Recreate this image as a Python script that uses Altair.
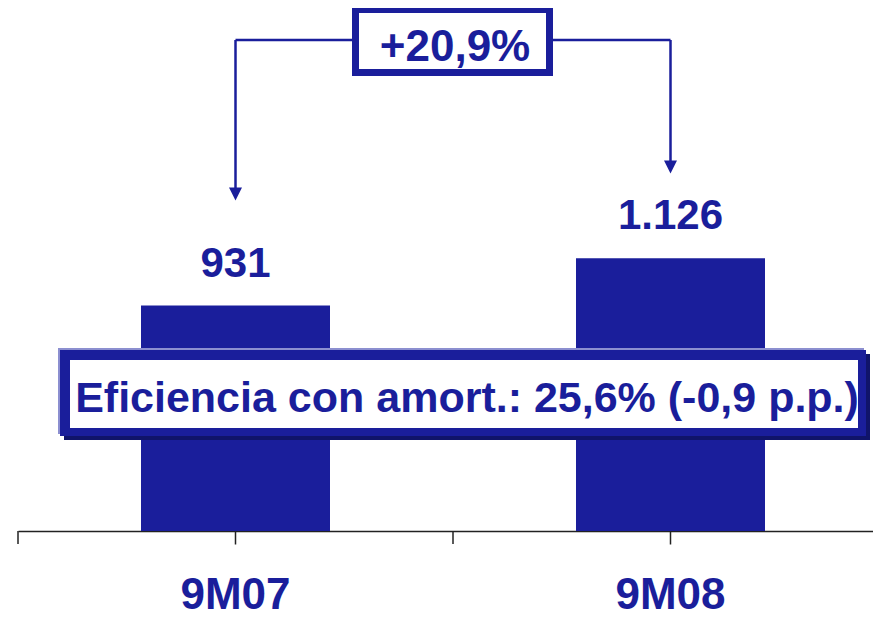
import altair as alt
import pandas as pd

# ---- data ----
categories = ["9M07", "9M08"]
values = [931, 1126]
value_labels = ["931", "1.126"]
growth_label = "+20,9%"
efficiency_label = "Eficiencia con amort.: 25,6% (-0,9 p.p.)"

BLUE = "#1A1E9B"
SHADOW = "#10146A"
EDGE = "#8C8FD0"
AXIS = "#222222"
FONT = "Liberation Sans"

df = pd.DataFrame({"cat": categories, "value": values, "label": value_labels})
one = pd.DataFrame({"k": [0]})

x_enc = alt.X(
    "cat:N",
    sort=categories,
    scale=alt.Scale(range=[10, 880], paddingInner=0, paddingOuter=0),
    axis=alt.Axis(
        title=None, labelAngle=0, labelFont=FONT, labelFontSize=44,
        labelFontWeight="bold", labelColor=BLUE, labelPadding=29,
        labelBaseline="top", tickSize=13, tickColor=AXIS, tickWidth=1.5,
        domainColor=AXIS, domainWidth=1.5, grid=False,
    ),
)
y_enc = alt.Y("value:Q", scale=alt.Scale(domain=[0, 2160]), axis=None)

base = alt.Chart(df)

bars = base.mark_bar(color=BLUE, width=alt.RelativeBandSize(0.4345)).encode(x=x_enc, y=y_enc)

labels = base.mark_text(
    font=FONT, fontSize=42, fontWeight="bold", color=BLUE,
    baseline="alphabetic", dy=-29,
).encode(x=x_enc, y=y_enc, text="label:N")

# ticks at the category boundaries
bound_ticks = base.mark_rule(color=AXIS, strokeWidth=1.5).encode(
    x=alt.X("cat:N", sort=categories, bandPosition=0),
    y=alt.value(523), y2=alt.value(536),
)

# connector: horizontal line between category centres
horiz = base.mark_line(color=BLUE, strokeWidth=2.5).encode(
    x=alt.X("cat:N", sort=categories), y=alt.value(32)
)

vert_left = base.transform_filter(alt.datum.cat == categories[0]).mark_rule(
    color=BLUE, strokeWidth=2.5
).encode(x=alt.X("cat:N", sort=categories), y=alt.value(32), y2=alt.value(185))
vert_right = base.transform_filter(alt.datum.cat == categories[1]).mark_rule(
    color=BLUE, strokeWidth=2.5
).encode(x=alt.X("cat:N", sort=categories), y=alt.value(32), y2=alt.value(158))

tri = "M-1,-1L1,-1L0,1Z"
arrow_left = base.transform_filter(alt.datum.cat == categories[0]).mark_point(
    shape=tri, size=170, filled=True, color=BLUE, opacity=1
).encode(x=alt.X("cat:N", sort=categories), y=alt.value(186))
arrow_right = base.transform_filter(alt.datum.cat == categories[1]).mark_point(
    shape=tri, size=170, filled=True, color=BLUE, opacity=1
).encode(x=alt.X("cat:N", sort=categories), y=alt.value(159))

ann = alt.Chart(one)
growth_box = ann.mark_rect(fill="white", stroke=BLUE, strokeWidth=7).encode(
    x=alt.value(347.5), x2=alt.value(541.5), y=alt.value(1.5), y2=alt.value(64.5)
)
growth_text = ann.mark_text(
    font=FONT, fontSize=44, fontWeight="bold", color=BLUE, baseline="alphabetic", align="center"
).encode(x=alt.value(447), y=alt.value(53), text=alt.value(growth_label))

eff_edge = ann.mark_rect(fill=EDGE).encode(
    x=alt.value(50), x2=alt.value(856), y=alt.value(340), y2=alt.value(426)
)
eff_shadow = ann.mark_rect(fill=SHADOW).encode(
    x=alt.value(56), x2=alt.value(862), y=alt.value(346), y2=alt.value(432)
)
eff_main = ann.mark_rect(fill=BLUE).encode(
    x=alt.value(52), x2=alt.value(858), y=alt.value(342), y2=alt.value(428)
)
eff_inner = ann.mark_rect(fill="white").encode(
    x=alt.value(62), x2=alt.value(850), y=alt.value(352), y2=alt.value(420)
)
eff_text = ann.mark_text(
    font=FONT, fontSize=43, fontWeight="bold", color=BLUE, baseline="alphabetic", align="center"
).encode(x=alt.value(459), y=alt.value(404), text=alt.value(efficiency_label))

chart = alt.layer(
    bars, labels, bound_ticks, horiz, vert_left, vert_right, arrow_left, arrow_right,
    growth_box, growth_text, eff_edge, eff_shadow, eff_main, eff_inner, eff_text,
).properties(
    width=865, height=523,
    padding={"left": 0, "top": 0, "right": 0, "bottom": 90},
    autosize=alt.AutoSizeParams(type="none"),
).configure_view(stroke=None)

chart.save("out.html", embed_options={"renderer": "svg", "actions": False})
